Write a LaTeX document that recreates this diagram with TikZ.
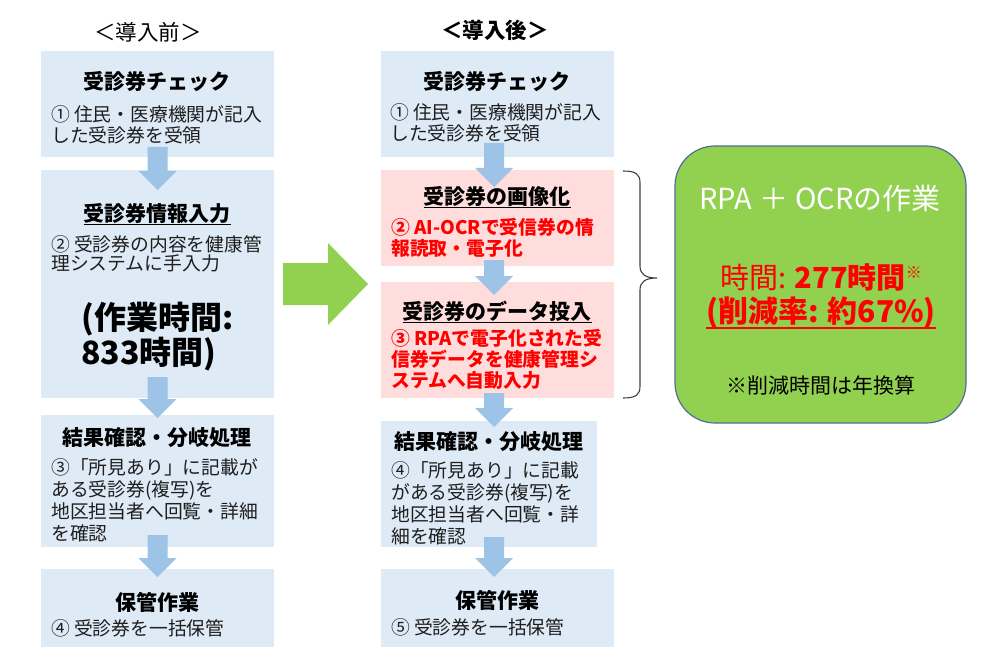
\documentclass[tikz,border=0pt]{standalone}
\usepackage{fontspec}
\setmainfont{Noto Sans CJK JP}
\usetikzlibrary{calc}
\definecolor{boxblue}{RGB}{222,235,247}
\definecolor{boxpink}{RGB}{255,221,221}
\definecolor{arrowblue}{RGB}{157,195,230}
\definecolor{bigreen}{RGB}{146,208,80}
\definecolor{greenedge}{RGB}{80,110,150}
\definecolor{bracegray}{RGB}{64,64,64}
\definecolor{bodytext}{RGB}{30,30,30}
\newsavebox\ulbox
\newcommand\ulx[1]{\sbox\ulbox{#1}\rlap{\rule[-4pt]{\wd\ulbox}{1.5pt}}\usebox\ulbox}
\newcommand\ulthick[1]{\sbox\ulbox{#1}\rlap{\rule[-7pt]{\wd\ulbox}{2pt}}\usebox\ulbox}
\newcommand\flowarrow[2]{%
  \fill[arrowblue] let \p1=#1, \p2=#2 in
    (\x1-10pt,\y1) -- (\x1-10pt,\y2+19pt) -- (\x1-19pt,\y2+19pt) -- (\x1,\y2)
    -- (\x1+19pt,\y2+19pt) -- (\x1+10pt,\y2+19pt) -- (\x1+10pt,\y1) -- cycle;}
\tikzset{
  lb/.style={fill=boxblue, draw=none, inner sep=0, outer sep=0, minimum width=233},
  pk/.style={fill=boxpink, draw=none, inner sep=0, outer sep=0, minimum width=233},
  ttl/.style={font=\fontsize{21}{24}\selectfont\bfseries, inner sep=0},
  bd/.style={font=\fontsize{18.8}{21}\selectfont, text=bodytext, align=left, anchor=west, inner sep=0},
  rd/.style={font=\fontsize{18.8}{21}\selectfont\bfseries, text=red, align=left, anchor=west, inner sep=0},
}
\begin{document}
\begin{tikzpicture}[x=1pt,y=-1pt]
\useasboundingbox (0,0) rectangle (1000,663);
\fill[white] (0,0) rectangle (1000,663);

% headers
\node[font=\fontsize{21.5}{24}\selectfont, inner sep=0] (hL) at (148,32) {＜導入前＞};
\node[font=\fontsize{21.5}{24}\selectfont\bfseries, inner sep=0] (hM) at (495,30) {＜導入後＞};

% left column boxes
\node[lb, minimum height=106] (L1) at (157.5,104) {};
\node[lb, minimum height=228] (L2) at (157.5,284) {};
\node[lb, minimum height=132] (L3) at (157.5,481) {};
\node[lb, minimum height=78]  (L4) at (157.5,608) {};

% middle column boxes
\node[lb, minimum height=106] (M1) at (497,104) {};
\node[pk, minimum height=96]  (M2) at (497,218) {};
\node[pk, minimum height=116] (M3) at (497,340) {};
\node[lb, minimum width=216, minimum height=126] (M4) at (489,484) {};
\node[lb, minimum height=78]  (M5) at (497,608) {};

% flow arrows
\flowarrow{([yshift=10pt]L1.south)}{([yshift=-20pt]L2.north)}
\flowarrow{([yshift=21pt]L2.south)}{([yshift=-3pt]L3.north)}
\flowarrow{([yshift=12pt]L3.south)}{([yshift=-8pt]L4.north)}
\flowarrow{([xshift=-3pt,yshift=14pt]M1.south)}{([xshift=-3pt,yshift=-17pt]M2.north)}
\flowarrow{([xshift=-3pt,yshift=6pt]M2.south)}{([xshift=-3pt,yshift=-13pt]M3.north)}
\flowarrow{([xshift=-3pt,yshift=5pt]M3.south)}{([xshift=5pt,yshift=-6pt]M4.north)}
\flowarrow{([xshift=5pt,yshift=10pt]M4.south)}{([xshift=-3pt,yshift=-8pt]M5.north)}

% left texts
\node[ttl] (L1t) at (157,82) {受診券チェック};
\node[bd] (L1b) at (51,125) {① 住民・医療機関が記入\\した受診券を受領};
\node[ttl] (L2t) at (157,214) {\ulx{受診券情報入力}};
\node[bd, font=\fontsize{18.8}{19.5}\selectfont] (L2b) at (51,254) {② 受診券の内容を健康管\\理システムに手入力};
\node[font=\fontsize{32}{35}\selectfont\bfseries, align=left, anchor=west, inner sep=0] (L2big) at (81,337) {(作業時間:\\833時間)};
\node[ttl] (L3t) at (157,438) {結果確認・分岐処理};
\node[bd, font=\fontsize{18.8}{22}\selectfont] (L3b) at (51,500) {③「所見あり」に記載が\\ある受診券(複写)を\\地区担当者へ回覧・詳細\\を確認};
\node[ttl] (L4t) at (157,602) {保管作業};
\node[bd] (L4b) at (51,628) {④ 受診券を一括保管};

% middle texts
\node[ttl] (M1t) at (497,82) {受診券チェック};
\node[bd] (M1b) at (390,123) {① 住民・医療機関が記入\\した受診券を受領};
\node[ttl] (M2t) at (497,197) {\ulx{受診券の画像化}};
\node[rd, font=\fontsize{18.8}{21.5}\selectfont\bfseries] (M2b) at (391,238) {② AI-OCRで受信券の情\\報読取・電子化};
\node[ttl] (M3t) at (497,312) {\ulx{受診券のデータ投入}};
\node[rd] (M3b) at (391,359) {③ RPAで電子化された受\\信券データを健康管理シ\\ステムへ自動入力};
\node[ttl] (M4t) at (489,442) {結果確認・分岐処理};
\node[bd, font=\fontsize{18.8}{22}\selectfont] (M4b) at (391,503) {④「所見あり」に記載\\がある受診券(複写)を\\地区担当者へ回覧・詳\\細を確認};
\node[ttl] (M5t) at (497,600) {保管作業};
\node[bd] (M5b) at (391,627) {⑤ 受診券を一括保管};

% big green arrow
\fill[bigreen] (283,263) -- (328,263) -- (328,243) -- (368,284) -- (328,325) -- (328,305) -- (283,305) -- cycle;

% brace
\draw[bracegray, line width=1.1pt] (623,171) .. controls (636,171) and (640,174) .. (640,183)
  -- (640,266) .. controls (640,274) and (645,278) .. (657,278)
  .. controls (645,278) and (640,282) .. (640,290)
  -- (640,386) .. controls (640,395) and (636,398) .. (623,398);

% green result box
\node[fill=bigreen, draw=greenedge, line width=1.2pt, rounded corners=40pt,
      minimum width=291, minimum height=277, inner sep=0] (G) at (820.5,284.5) {};
\node[font=\fontsize{29}{32}\selectfont, text=white, inner sep=0] (G1) at (820,198) {RPA\hspace{7pt}＋\hspace{7pt}OCRの作業};
\node[font=\fontsize{29}{32}\selectfont, text=red, inner sep=0] (G2) at (821,277) {時間: \textbf{277時間}\raisebox{10pt}{\fontsize{16}{16}\selectfont ※}};
\node[font=\fontsize{30}{32}\selectfont\bfseries, text=red, inner sep=0] (G3) at (821,313) {\ulthick{(削減率: 約67\%)}};
\node[font=\fontsize{21}{23}\selectfont, inner sep=0] (G4) at (821,385) {※削減時間は年換算};
\end{tikzpicture}
\end{document}
